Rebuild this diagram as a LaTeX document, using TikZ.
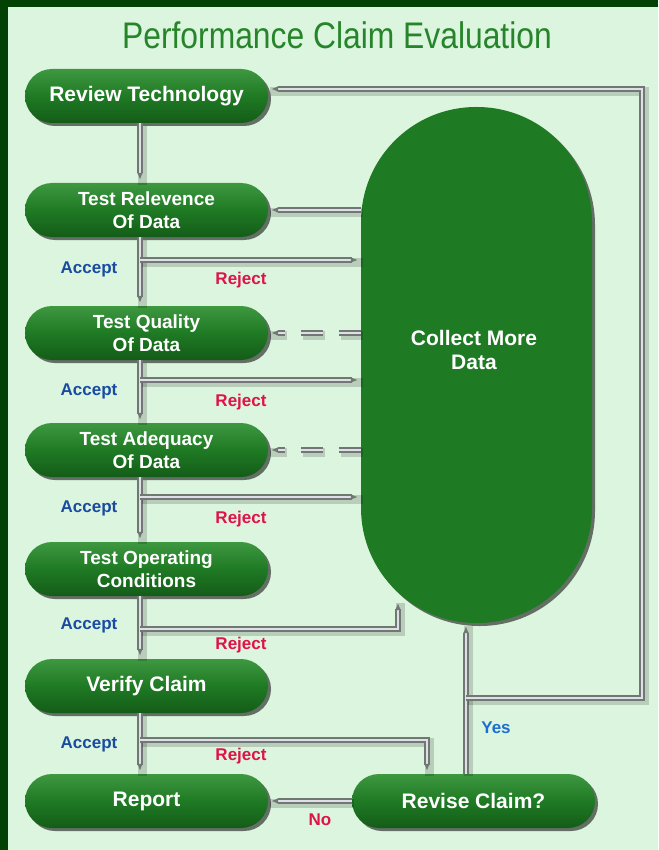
\documentclass[tikz,border=0pt]{standalone}
\usepackage{fontspec}
\setmainfont{Liberation Sans}
\usepackage{graphicx}
\usetikzlibrary{shapes.misc,shadows,arrows.meta,calc}

\definecolor{bgdark}{RGB}{3,66,3}
\definecolor{bglight}{RGB}{220,245,222}
\definecolor{pill}{RGB}{31,122,36}
\definecolor{pilltop}{RGB}{62,152,64}
\definecolor{pillbot}{RGB}{20,92,24}
\definecolor{pipedark}{RGB}{112,120,114}
\definecolor{pipelight}{RGB}{224,222,234}
\definecolor{acceptblue}{RGB}{25,75,160}
\definecolor{rejectred}{RGB}{222,20,72}
\definecolor{yesblue}{RGB}{30,110,210}
\definecolor{titlegreen}{RGB}{38,132,42}

\newcommand{\pipe}[3]{%
  \draw[pipeshade,#1] #3;
  \draw[pipe,#1,#2] #3;}

\begin{document}
\begin{tikzpicture}[x=1pt,y=-1pt,
  pillbox/.style={rounded rectangle, draw=none, top color=pilltop, bottom color=pillbot, middle color=pill,
    minimum width=243pt, minimum height=54pt, inner sep=0pt, text=white, align=center,
    font=\bfseries\fontsize{21}{23}\selectfont,
    drop shadow={shadow xshift=3pt, shadow yshift=-3pt, opacity=0.55, fill=black}},
  twoline/.style={font=\bfseries\fontsize{19}{22.5}\selectfont},
  bigpill/.style={rectangle, rounded corners=115pt, draw=none, fill=pill,
    minimum width=231pt, minimum height=516pt, inner sep=0pt,
    drop shadow={shadow xshift=3pt, shadow yshift=-3pt, opacity=0.55, fill=black}},
  bigtext/.style={text=white, align=center, font=\bfseries\fontsize{21}{24}\selectfont},
  pipe/.style={draw=pipedark, line width=2.3pt, double=pipelight, double distance=2.2pt},
  pipeshade/.style={draw=black, draw opacity=0.16, line width=9pt, transform canvas={shift={(2pt,-2.5pt)}}},
  tip/.style={-{Latex[length=7pt,width=6pt]}, shorten >=3pt},
  acc/.style={text=acceptblue, font=\bfseries\fontsize{17}{19}\selectfont},
  rej/.style={text=rejectred, font=\bfseries\fontsize{17}{19}\selectfont},
  yes/.style={text=yesblue, font=\bfseries\fontsize{17}{19}\selectfont},
]
\useasboundingbox (0,0) rectangle (658,850);
\fill[bgdark] (0,0) rectangle (658,850);
\fill[bglight] (8,7) rectangle (658,850);

% title
\node[text=titlegreen, font=\fontsize{37}{40}\selectfont] (title) at (337,35) {\scalebox{0.86}[1]{Performance Claim Evaluation}};

\coordinate (b1) at (140,260);
\coordinate (b2) at (140,380);
\coordinate (b3) at (140,497);
\coordinate (b4) at (140,629);
\coordinate (b4r) at (398,629);
\coordinate (b4t) at (398,600);
\coordinate (b5) at (140,740);
\coordinate (b5r) at (427,740);
\coordinate (ysplit) at (466,698);
\coordinate (rc1) at (642,698);
\coordinate (rc2) at (642,89);

% nodes
\node[bigpill] (cmd) at (476.5,365) {};
\node[pillbox] (rev) at (146.5,96) {Review Technology};
\node[pillbox,twoline] (rel) at (146.5,210) {Test Relevence\\Of Data};
\node[pillbox,twoline] (qual) at (146.5,333) {Test Quality\\Of Data};
\node[pillbox,twoline] (adeq) at (146.5,450) {Test Adequacy\\Of Data};
\node[pillbox,twoline] (oper) at (146.5,569) {Test Operating\\Conditions};
\node[pillbox] (ver) at (146.5,686) {Verify Claim};
\node[pillbox] (rep) at (146.5,801) {Report};
\node[pillbox] (rcl) at (473.5,801) {Revise Claim?};
\node[bigtext] (cmdtext) at (474,350) {Collect More\\Data};

% main vertical flow
\pipe{}{tip}{(rev.south -| b1) -- (rel.north -| b1)}
\pipe{}{tip}{(rel.south -| b1) -- (qual.north -| b1)}
\pipe{}{tip}{(qual.south -| b2) -- (adeq.north -| b2)}
\pipe{}{tip}{(adeq.south -| b3) -- (oper.north -| b3)}
\pipe{}{tip}{(oper.south -| b4) -- (ver.north -| b4)}
\pipe{}{tip}{(ver.south -| b5) -- (rep.north -| b5)}

% reject branches
\pipe{}{tip}{(b1) -- (b1 -| cmd.west)}
\pipe{}{tip}{(b2) -- (b2 -| cmd.west)}
\pipe{}{tip}{(b3) -- (b3 -| cmd.west)}
\pipe{}{tip}{(b4) -- (b4r) -- (b4t)}
\pipe{}{tip}{(b5) -- (b5r) -- (b5r |- rcl.north)}

% from collect more data
\pipe{}{tip}{(cmd.west |- rel.east) -- (rel.east)}
\pipe{dash pattern=on 22pt off 16pt}{tip}{(cmd.west |- qual.east) -- (qual.east)}
\pipe{dash pattern=on 22pt off 16pt}{tip}{(cmd.west |- adeq.east) -- (adeq.east)}

% revise claim
\pipe{}{tip}{(rcl.west) -- (rep.east)}
\pipe{}{tip}{(rcl.north -| ysplit) -- (cmd.south -| ysplit)}
\pipe{}{tip}{(ysplit) -- (rc1) -- (rc2) -- (rc2 -| rev.east)}

% labels
\node[acc] (acc1) at (89,269) {Accept};
\node[acc] (acc2) at (89,391) {Accept};
\node[acc] (acc3) at (89,508) {Accept};
\node[acc] (acc4) at (89,625) {Accept};
\node[acc] (acc5) at (89,744) {Accept};
\node[rej] (rej1) at (241,280) {Reject};
\node[rej] (rej2) at (241,402) {Reject};
\node[rej] (rej3) at (241,519) {Reject};
\node[rej] (rej4) at (241,645) {Reject};
\node[rej] (rej5) at (241,756) {Reject};
\node[yes] (yes) at (496,728) {Yes};
\node[rej] (no) at (320,820) {No};
\end{tikzpicture}
\end{document}
